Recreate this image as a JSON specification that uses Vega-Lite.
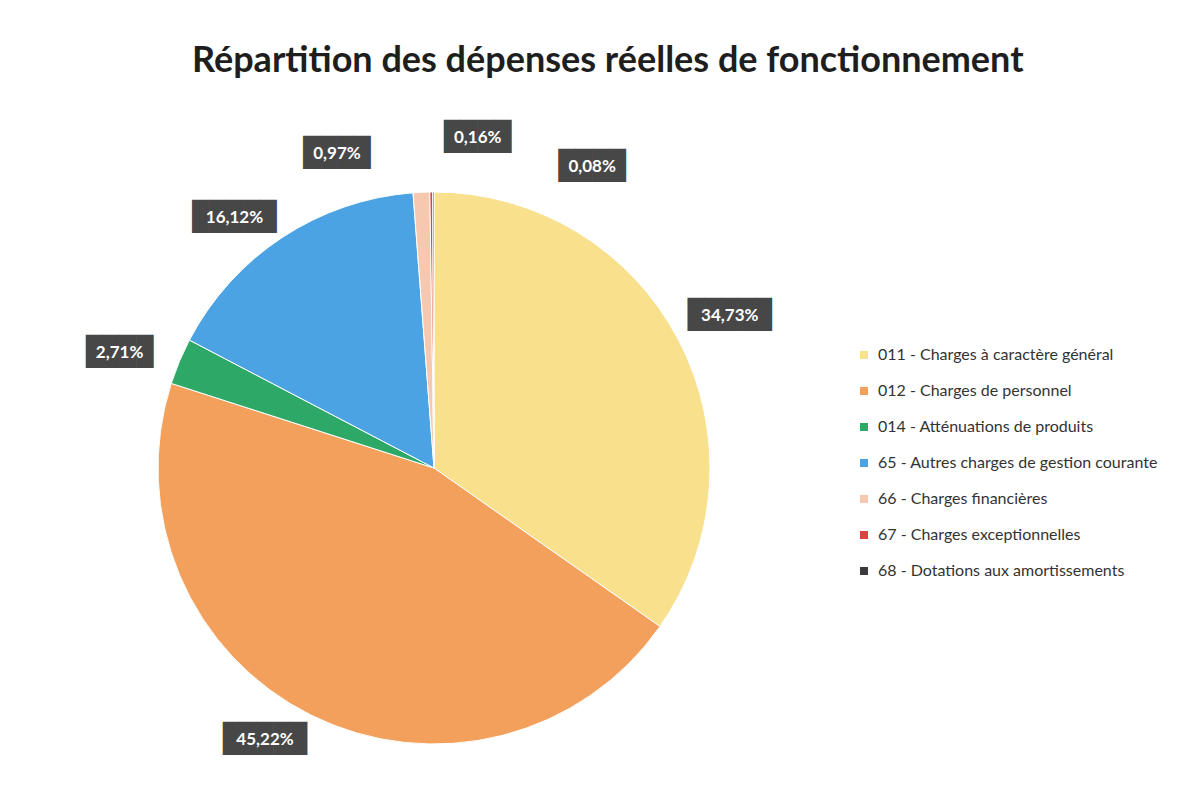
{
  "$schema": "https://vega.github.io/schema/vega-lite/v6.json",
  "width": 552,
  "height": 552,
  "autosize": {"type": "none"},
  "padding": {"left": 158, "top": 192, "right": 494, "bottom": 54},
  "background": "#ffffff",
  "title": {
    "text": "Répartition des dépenses réelles de fonctionnement",
    "anchor": "start",
    "frame": "group",
    "dx": 34,
    "dy": -40,
    "font": "Lato",
    "fontSize": 36,
    "fontWeight": "bold",
    "color": "#1e1e1e"
  },
  "data": {
    "values": [
      {"code": "011 - Charges à caractère général", "value": 34.73, "label": "34,73%", "ord": 1},
      {"code": "012 - Charges de personnel", "value": 45.22, "label": "45,22%", "ord": 2},
      {"code": "014 - Atténuations de produits", "value": 2.71, "label": "2,71%", "ord": 3},
      {"code": "65 - Autres charges de gestion courante", "value": 16.12, "label": "16,12%", "ord": 4},
      {"code": "66 - Charges financières", "value": 0.97, "label": "0,97%", "ord": 5},
      {"code": "67 - Charges exceptionnelles", "value": 0.16, "label": "0,16%", "ord": 6},
      {"code": "68 - Dotations aux amortissements", "value": 0.08, "label": "0,08%", "ord": 7}
    ]
  },
  "transform": [
    {"stack": "value", "groupby": [], "sort": [{"field": "ord", "order": "ascending"}], "as": ["v0", "v1"]},
    {"calculate": "(datum.v0 + datum.v1) / 2", "as": "mid"},
    {"calculate": "pad('', length(datum.label) - 1, '█')", "as": "box"}
  ],
  "layer": [
    {
      "mark": {"type": "arc", "stroke": "#ffffff", "strokeWidth": 1},
      "encoding": {
        "theta": {"field": "v0", "type": "quantitative", "stack": null, "scale": {"domain": [0, 99.99]}},
        "theta2": {"field": "v1"},
        "color": {
          "field": "code",
          "type": "nominal",
          "sort": null,
          "scale": {
            "domain": [
              "011 - Charges à caractère général",
              "012 - Charges de personnel",
              "014 - Atténuations de produits",
              "65 - Autres charges de gestion courante",
              "66 - Charges financières",
              "67 - Charges exceptionnelles",
              "68 - Dotations aux amortissements"
            ],
            "range": ["#F9E08C", "#F2A05C", "#2DA866", "#4BA3E3", "#F6C8B0", "#D9453C", "#3a3a3a"]
          },
          "legend": {
            "title": null,
            "orient": "none",
            "legendX": 698,
            "legendY": 155,
            "symbolType": "square",
            "symbolSize": 64,
            "symbolStrokeWidth": 0,
            "labelFont": "Lato",
            "labelFontSize": 16,
            "labelColor": "#333333",
            "labelOffset": 6,
            "labelLimit": 400,
            "rowPadding": 20
          }
        }
      }
    },
    {"transform": [{"filter": "datum.ord == 1"}], "mark": {"type": "text", "radius": 330, "dx": 3, "dy": 0, "font": "DejaVu Sans Mono", "fontSize": 28, "color": "#474747", "baseline": "middle"}, "encoding": {"theta": {"field": "mid", "type": "quantitative", "stack": null}, "text": {"field": "box"}}},
    {"transform": [{"filter": "datum.ord == 1"}], "mark": {"type": "text", "radius": 330, "dx": 3, "dy": 0, "font": "Lato", "fontSize": 17, "fontWeight": "bold", "color": "#ffffff", "baseline": "middle"}, "encoding": {"theta": {"field": "mid", "type": "quantitative", "stack": null}, "text": {"field": "label"}}},
    {"transform": [{"filter": "datum.ord == 2"}], "mark": {"type": "text", "radius": 330, "dx": -22, "dy": -23, "font": "DejaVu Sans Mono", "fontSize": 28, "color": "#474747", "baseline": "middle"}, "encoding": {"theta": {"field": "mid", "type": "quantitative", "stack": null}, "text": {"field": "box"}}},
    {"transform": [{"filter": "datum.ord == 2"}], "mark": {"type": "text", "radius": 330, "dx": -22, "dy": -23, "font": "Lato", "fontSize": 17, "fontWeight": "bold", "color": "#ffffff", "baseline": "middle"}, "encoding": {"theta": {"field": "mid", "type": "quantitative", "stack": null}, "text": {"field": "label"}}},
    {"transform": [{"filter": "datum.ord == 3"}], "mark": {"type": "text", "radius": 330, "dx": -10, "dy": 12, "font": "DejaVu Sans Mono", "fontSize": 28, "color": "#474747", "baseline": "middle"}, "encoding": {"theta": {"field": "mid", "type": "quantitative", "stack": null}, "text": {"field": "box"}}},
    {"transform": [{"filter": "datum.ord == 3"}], "mark": {"type": "text", "radius": 330, "dx": -10, "dy": 12, "font": "Lato", "fontSize": 17, "fontWeight": "bold", "color": "#ffffff", "baseline": "middle"}, "encoding": {"theta": {"field": "mid", "type": "quantitative", "stack": null}, "text": {"field": "label"}}},
    {"transform": [{"filter": "datum.ord == 4"}], "mark": {"type": "text", "radius": 330, "dx": -18, "dy": 26, "font": "DejaVu Sans Mono", "fontSize": 28, "color": "#474747", "baseline": "middle"}, "encoding": {"theta": {"field": "mid", "type": "quantitative", "stack": null}, "text": {"field": "box"}}},
    {"transform": [{"filter": "datum.ord == 4"}], "mark": {"type": "text", "radius": 330, "dx": -18, "dy": 26, "font": "Lato", "fontSize": 17, "fontWeight": "bold", "color": "#ffffff", "baseline": "middle"}, "encoding": {"theta": {"field": "mid", "type": "quantitative", "stack": null}, "text": {"field": "label"}}},
    {"transform": [{"filter": "datum.ord == 5"}], "mark": {"type": "text", "radius": 330, "dx": -82, "dy": 16, "font": "DejaVu Sans Mono", "fontSize": 28, "color": "#474747", "baseline": "middle"}, "encoding": {"theta": {"field": "mid", "type": "quantitative", "stack": null}, "text": {"field": "box"}}},
    {"transform": [{"filter": "datum.ord == 5"}], "mark": {"type": "text", "radius": 330, "dx": -82, "dy": 16, "font": "Lato", "fontSize": 17, "fontWeight": "bold", "color": "#ffffff", "baseline": "middle"}, "encoding": {"theta": {"field": "mid", "type": "quantitative", "stack": null}, "text": {"field": "label"}}},
    {"transform": [{"filter": "datum.ord == 6"}], "mark": {"type": "text", "radius": 330, "dx": 47, "dy": 0, "font": "DejaVu Sans Mono", "fontSize": 28, "color": "#474747", "baseline": "middle"}, "encoding": {"theta": {"field": "mid", "type": "quantitative", "stack": null}, "text": {"field": "box"}}},
    {"transform": [{"filter": "datum.ord == 6"}], "mark": {"type": "text", "radius": 330, "dx": 47, "dy": 0, "font": "Lato", "fontSize": 17, "fontWeight": "bold", "color": "#ffffff", "baseline": "middle"}, "encoding": {"theta": {"field": "mid", "type": "quantitative", "stack": null}, "text": {"field": "label"}}},
    {"transform": [{"filter": "datum.ord == 7"}], "mark": {"type": "text", "radius": 330, "dx": 159, "dy": 29, "font": "DejaVu Sans Mono", "fontSize": 28, "color": "#474747", "baseline": "middle"}, "encoding": {"theta": {"field": "mid", "type": "quantitative", "stack": null}, "text": {"field": "box"}}},
    {"transform": [{"filter": "datum.ord == 7"}], "mark": {"type": "text", "radius": 330, "dx": 159, "dy": 29, "font": "Lato", "fontSize": 17, "fontWeight": "bold", "color": "#ffffff", "baseline": "middle"}, "encoding": {"theta": {"field": "mid", "type": "quantitative", "stack": null}, "text": {"field": "label"}}}
  ],
  "config": {"view": {"stroke": null}}
}
